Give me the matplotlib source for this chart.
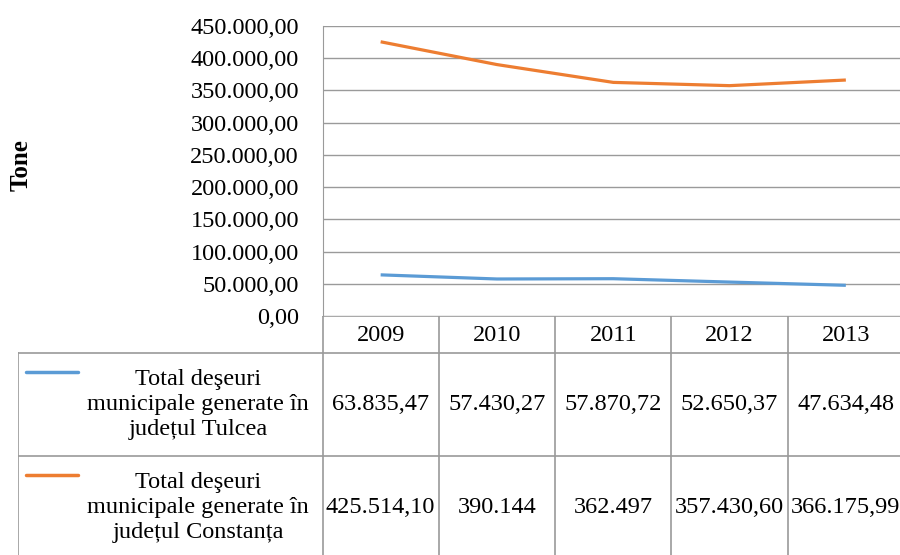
import matplotlib.pyplot as plt
from matplotlib.ticker import FuncFormatter

plt.rcParams['font.family'] = ['Liberation Serif', 'DejaVu Serif']

years = ['2009', '2010', '2011', '2012', '2013']
tulcea = [63835.47, 57430.27, 57870.72, 52650.37, 47634.48]
constanta = [425514.10, 390144, 362497, 357430.60, 366175.99]
tulcea_text = ['63.835,47', '57.430,27', '57.870,72', '52.650,37', '47.634,48']
constanta_text = ['425.514,10', '390.144', '362.497', '357.430,60', '366.175,99']
series_names = ['Total deşeuri\nmunicipale generate în\njudețul Tulcea',
                'Total deşeuri\nmunicipale generate în\njudețul Constanța']
colors = ['#5B9BD5', '#ED7D31']

W, H = 900, 555
FS = 17.5
GRID = '#9a9a9a'

fig = plt.figure(figsize=(9, 5.55), dpi=100)

# chart area (pixel box converted to figure fraction)
x0, x1 = 322.5, 904
y_top, y_zero = 26, 316
ax = fig.add_axes([x0 / W, 1 - y_zero / H, (x1 - x0) / W, (y_zero - y_top) / H])
xs = range(len(years))
for vals, c in zip([tulcea, constanta], colors):
    ax.plot(xs, vals, color=c, lw=2.3, solid_capstyle='butt', zorder=3)
ax.set_xlim(-0.5, len(years) - 0.5)
ax.set_ylim(0, 450000)
ax.set_yticks(range(0, 450001, 50000))
ax.yaxis.set_major_formatter(FuncFormatter(
    lambda v, p: f'{v:,.2f}'.replace(',', 'X').replace('.', ',').replace('X', '.')))
ax.tick_params(axis='y', length=0, pad=17, labelsize=FS)
ax.set_xticks([])
ax.grid(axis='y', color=GRID, lw=1)
for s in ['top', 'right', 'bottom']:
    ax.spines[s].set_visible(False)
ax.spines['left'].set_color(GRID)
ax.set_axisbelow(True)

fig.text(21 / W, 1 - 165 / H, 'Tone', rotation=90, ha='center', va='center',
         fontsize=FS + 0.5, fontweight='bold')

# data table below the chart
tx0 = 18
label_w = (x0 - tx0) / ((x1 - x0) / len(years))
tab = fig.add_axes([tx0 / W, -4 / H, (x1 - tx0) / W, (H + 4 - y_zero) / H])
tab.set_xlim(-0.5 - label_w, len(years) - 0.5)
tab.set_ylim(H + 4, y_zero)
tab.axis('off')

rows = [y_zero, 353, 456, H + 4]
lw = 1.2
# horizontal rules
tab.plot([-0.5, len(years) - 0.5], [rows[0], rows[0]], color=GRID, lw=lw)
for r in rows[1:3]:
    tab.plot([-0.5 - label_w, len(years) - 0.5], [r, r], color=GRID, lw=lw)
# vertical rules
for i in range(len(years) + 1):
    tab.plot([i - 0.5, i - 0.5], [rows[0], rows[3]], color=GRID, lw=lw)
tab.plot([-0.5 - label_w + 0.004, -0.5 - label_w + 0.004], [rows[1], rows[3]], color=GRID, lw=lw)

for i, y in enumerate(years):
    tab.text(i, (rows[0] + rows[1]) / 2 + 1, y, ha='center', va='center', fontsize=FS)

for k, (name, texts, c) in enumerate(zip(series_names, [tulcea_text, constanta_text], colors)):
    mid = (rows[k + 1] + min(rows[k + 2], H)) / 2 + (0 if k == 0 else 2)
    top = rows[k + 1]
    tab.plot([-0.5 - label_w + 0.07, -0.5 - label_w + 0.52], [top + 19, top + 19],
             color=c, lw=2.5, solid_capstyle='round')
    tab.text(-0.5 - label_w / 2 + 0.24, mid, name, ha='center', va='center',
             fontsize=FS, linespacing=1.28)
    for i, t in enumerate(texts):
        tab.text(i, mid, t, ha='center', va='center', fontsize=FS)

fig.savefig('out.png', dpi=100)
